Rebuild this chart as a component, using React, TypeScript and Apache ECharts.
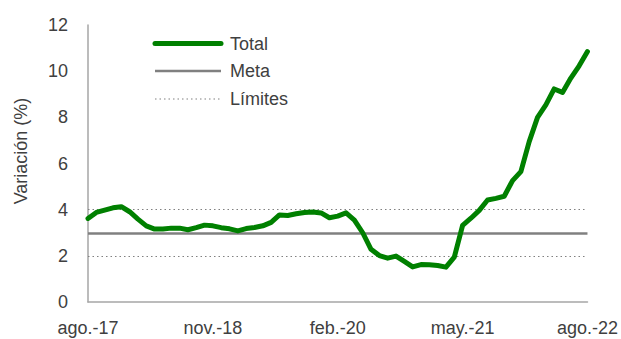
import React, { useEffect, useRef } from "react";
import * as echarts from "echarts";

const monthNames = ["ene.", "feb.", "mar.", "abr.", "may.", "jun.", "jul.", "ago.", "sep.", "oct.", "nov.", "dic."];
const startYear = 2017;
const startMonth = 7; // ago.
const monthCount = 61;
const categories: string[] = [];
for (let i = 0; i < monthCount; i++) {
  const m = (startMonth + i) % 12;
  const y = startYear + Math.floor((startMonth + i) / 12);
  categories.push(monthNames[m] + "-" + String(y).slice(2));
}

const totalValues = [
  3.62, 3.88, 3.98, 4.08, 4.13, 3.91, 3.59, 3.3, 3.16, 3.16,
  3.2, 3.2, 3.13, 3.22, 3.33, 3.3, 3.22, 3.17, 3.08, 3.18,
  3.23, 3.3, 3.45, 3.77, 3.75, 3.82, 3.88, 3.9, 3.86, 3.65,
  3.72, 3.86, 3.55, 3.0, 2.28, 2.01, 1.9, 1.99, 1.76, 1.52,
  1.62, 1.61, 1.58, 1.51, 1.94, 3.32, 3.63, 3.97, 4.42, 4.49,
  4.58, 5.26, 5.65, 6.95, 8.0, 8.54, 9.23, 9.08, 9.7, 10.23,
  10.85,
];
const metaValue = 3;
const limitValues = [2, 4];
const yTicks = { min: 0, max: 12, interval: 2 };
const legendNames = ["Total", "Meta", "Límites"];

const FONT = "Liberation Sans";
const TEXT = "#404040";
const GREEN = "#008000";
const GRAY = "#808080";

export default function App() {
  const ref = useRef<HTMLDivElement>(null);
  useEffect(() => {
    if (!ref.current) return;
    const chart = echarts.init(ref.current, undefined, { renderer: "svg" });
    const legendStyles = [
      { stroke: GREEN, lineWidth: 5, lineCap: "round" },
      { stroke: GRAY, lineWidth: 2.5 },
      { stroke: GRAY, lineWidth: 1.2, lineDash: [1.5, 3] },
    ];
    const legendRowY = [43.5, 71, 99];
    const graphic: any[] = [];
    legendNames.forEach((name, i) => {
      graphic.push({
        type: "line",
        shape: { x1: 155, y1: legendRowY[i], x2: 221, y2: legendRowY[i] },
        style: legendStyles[i],
        silent: true,
      });
      graphic.push({
        type: "text",
        x: 230,
        y: legendRowY[i],
        style: { text: name, fontSize: 18, fontFamily: FONT, fill: TEXT, verticalAlign: "middle", align: "left" },
        silent: true,
      });
    });
    graphic.push({
      type: "text",
      x: 21,
      y: 151,
      rotation: Math.PI / 2,
      style: { text: "Variación (%)", fontSize: 18, fontFamily: FONT, fill: TEXT, align: "center", verticalAlign: "middle" },
      silent: true,
    });
    chart.setOption({
      animation: false,
      textStyle: { fontFamily: FONT },
      grid: { left: 88, right: 33, top: 25, bottom: 37, containLabel: false },
      graphic,
      xAxis: {
        type: "category",
        data: categories,
        boundaryGap: false,
        axisLine: { lineStyle: { color: "#a6a6a6", width: 1.5 } },
        axisTick: { show: false },
        axisLabel: { interval: 14, fontSize: 18, color: TEXT, margin: 17, fontFamily: FONT },
        splitLine: { show: false },
      },
      yAxis: {
        type: "value",
        min: yTicks.min,
        max: yTicks.max,
        interval: yTicks.interval,
        axisLine: { show: true, lineStyle: { color: "#a6a6a6", width: 1.5 } },
        axisTick: { show: false },
        axisLabel: { fontSize: 18, color: TEXT, margin: 20, fontFamily: FONT },
        splitLine: { show: false },
      },
      series: [
        {
          name: "Meta",
          type: "line",
          data: [],
          symbol: "none",
          markLine: {
            silent: true,
            symbol: "none",
            label: { show: false },
            lineStyle: { color: GRAY, width: 2.5, type: "solid" },
            data: [{ yAxis: metaValue }],
          },
        },
        {
          name: "Límites",
          type: "line",
          data: [],
          symbol: "none",
          markLine: {
            silent: true,
            symbol: "none",
            label: { show: false },
            lineStyle: { color: GRAY, width: 1.2, type: [1.5, 3] },
            data: limitValues.map((v) => ({ yAxis: v })),
          },
        },
        {
          name: "Total",
          type: "line",
          data: totalValues,
          symbol: "none",
          lineStyle: { color: GREEN, width: 5, cap: "round", join: "round" },
          itemStyle: { color: GREEN },
          z: 5,
        },
      ],
    });
    return () => chart.dispose();
  }, []);
  return <div ref={ref} style={{ width: 621, height: 339, position: "absolute", left: 0, top: 0 }} />;
}
